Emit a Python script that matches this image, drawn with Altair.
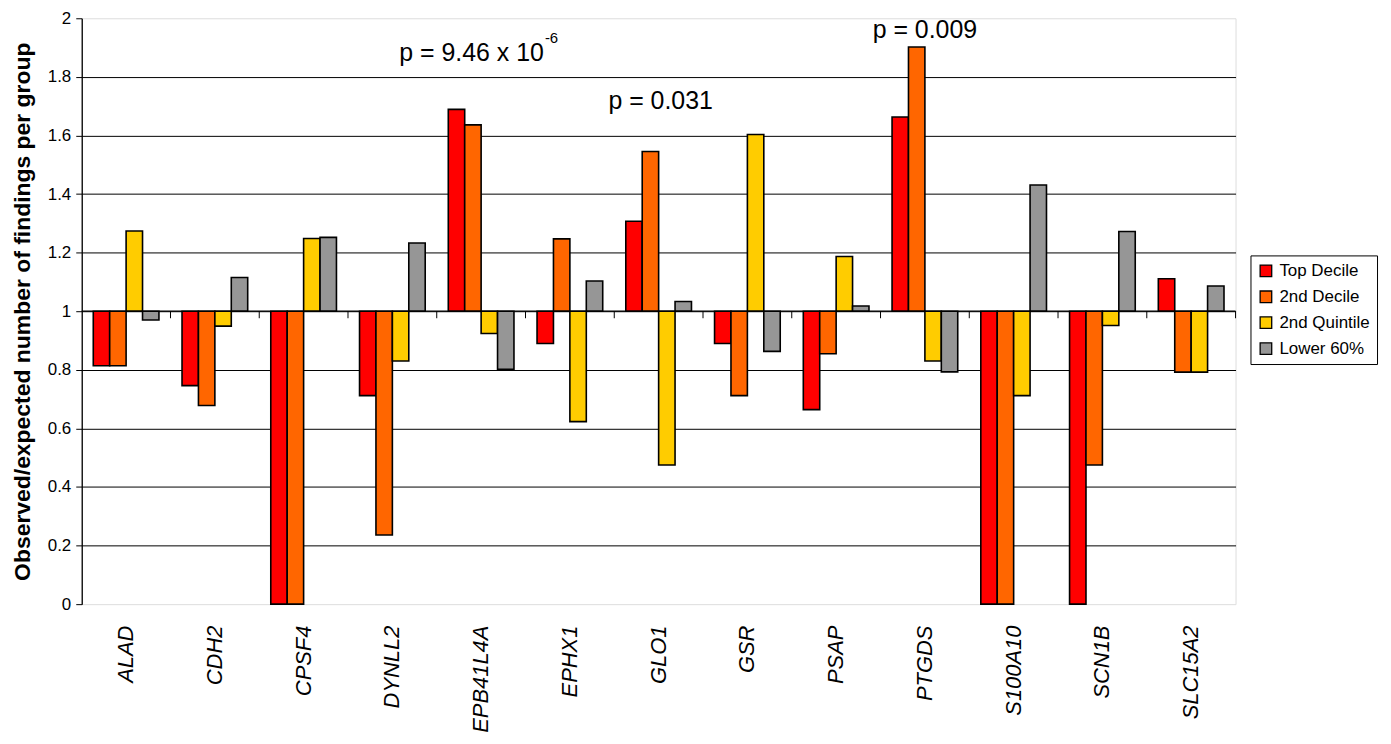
import altair as alt
import pandas as pd

genes = ["ALAD", "CDH2", "CPSF4", "DYNLL2", "EPB41L4A", "EPHX1", "GLO1",
         "GSR", "PSAP", "PTGDS", "S100A10", "SCN1B", "SLC15A2"]
groups = ["Top Decile", "2nd Decile", "2nd Quintile", "Lower 60%"]
top_decile = [0.814, 0.746, 0.0, 0.712, 1.689, 0.890, 1.307, 0.890, 0.664, 1.663, 0.0, 0.0, 1.111]
second_decile = [0.814, 0.678, 0.0, 0.236, 1.636, 1.247, 1.545, 0.712, 0.855, 1.902, 0.0, 0.475, 0.792]
second_quintile = [1.274, 0.949, 1.248, 0.830, 0.924, 0.623, 0.475, 1.603, 1.187, 0.830, 0.712, 0.951, 0.792]
lower_60 = [0.970, 1.115, 1.252, 1.233, 0.802, 1.103, 1.033, 0.863, 1.018, 0.793, 1.431, 1.272, 1.086]
colors = ["#FF0000", "#FF6600", "#FFCC00", "#969696"]
y_ticks = [0, 0.2, 0.4, 0.6, 0.8, 1, 1.2, 1.4, 1.6, 1.8, 2]
baseline = 1

# annotations: (text, anchor gene, y value)
ann_main = ["p = 9.46 x 10", "EPB41L4A", 1.853]
ann_sup = ["-6", "EPB41L4A", 1.915]
ann_2 = ["p = 0.031", "GLO1", 1.689]
ann_3 = ["p = 0.009", "PTGDS", 1.932]

FONT = "Liberation Sans"

series = [top_decile, second_decile, second_quintile, lower_60]
rows = []
for g, vals in zip(groups, series):
    for gene, v in zip(genes, vals):
        rows.append({"gene": gene, "group": g, "value": v})
df = pd.DataFrame(rows)
one_row = pd.DataFrame({"k": [0]})

x_enc = alt.X(
    "gene:N", sort=genes,
    scale=alt.Scale(domain=genes, paddingInner=0.26, paddingOuter=0.13),
    axis=alt.Axis(title=None, labelAngle=-90, labelFontStyle="italic",
                  labelFontSize=22, labelFont=FONT, labelColor="black",
                  domain=False, ticks=False, labelPadding=21,
                  labelAlign="right", labelBaseline="middle", grid=False),
)

y_axis = alt.Axis(
    values=y_ticks, format="~g",
    title="Observed/expected number of findings per group",
    titleFont=FONT, titleFontSize=23, titleFontWeight="bold", titleColor="black",
    titlePadding=13,
    labelFont=FONT, labelFontSize=17, labelColor="black", labelPadding=5,
    tickSize=6, tickColor="black", tickWidth=1,
    domainColor="black", domainWidth=1.3,
    gridColor="black", gridWidth=1,
    gridOpacity={"condition": {"test": "datum.value === 0 || datum.value === 2", "value": 0}, "value": 1},
)

bars = alt.Chart(df).mark_bar(stroke="black", strokeWidth=1.6).encode(
    x=x_enc,
    xOffset=alt.XOffset("group:N", sort=groups,
                        scale=alt.Scale(domain=groups, paddingInner=0, paddingOuter=0)),
    y=alt.Y("value:Q", scale=alt.Scale(domain=[0, 2], nice=False, zero=False), axis=y_axis),
    y2=alt.datum(baseline),
    color=alt.Color("group:N", sort=groups,
                    scale=alt.Scale(domain=groups, range=colors),
                    legend=alt.Legend(title=None, orient="none", legendX=1173, legendY=238,
                                      symbolType="square", symbolSize=135,
                                      symbolStrokeColor="black", symbolStrokeWidth=1.3,
                                      labelFont=FONT, labelFontSize=17, labelColor="black",
                                      rowPadding=8, padding=7, labelOffset=5,
                                      strokeColor="black", fillColor="white")),
)

base_rule = alt.Chart(one_row).mark_rule(color="black", strokeWidth=1.3).encode(
    y=alt.datum(baseline)
)


def ann(item, align, dx, size):
    return alt.Chart(one_row).mark_text(
        align=align, baseline="alphabetic", dx=dx, fontSize=size,
        font=FONT, color="black"
    ).encode(
        x=alt.X(datum=item[1], type="nominal"),
        y=alt.Y(datum=item[2]),
        text=alt.value(item[0]),
    )


texts = [
    ann(ann_main, "right", 63, 25),
    ann(ann_sup, "left", 64, 15),
    ann(ann_2, "center", 2, 25),
    ann(ann_3, "center", 0, 25),
]

main = alt.layer(bars, base_rule, *texts)

tick_df = pd.DataFrame({"b": list(range(1, len(genes) + 1))})
ticks = alt.Chart(tick_df).mark_rule(color="black", strokeWidth=1).encode(
    x=alt.X("b:Q", scale=alt.Scale(domain=[0, len(genes)], nice=False, zero=False), axis=None),
    y=alt.datum(baseline),
    y2=alt.datum(baseline - 0.024),
)

chart = alt.layer(main, ticks).resolve_scale(x="independent").properties(
    width=1158, height=588,
    padding={"left": 3, "top": 0, "right": 5, "bottom": 0},
).configure_view(stroke="#888888", strokeWidth=2).configure(background="white")

chart.save("out.html", embed_options={"renderer": "svg", "actions": False})
